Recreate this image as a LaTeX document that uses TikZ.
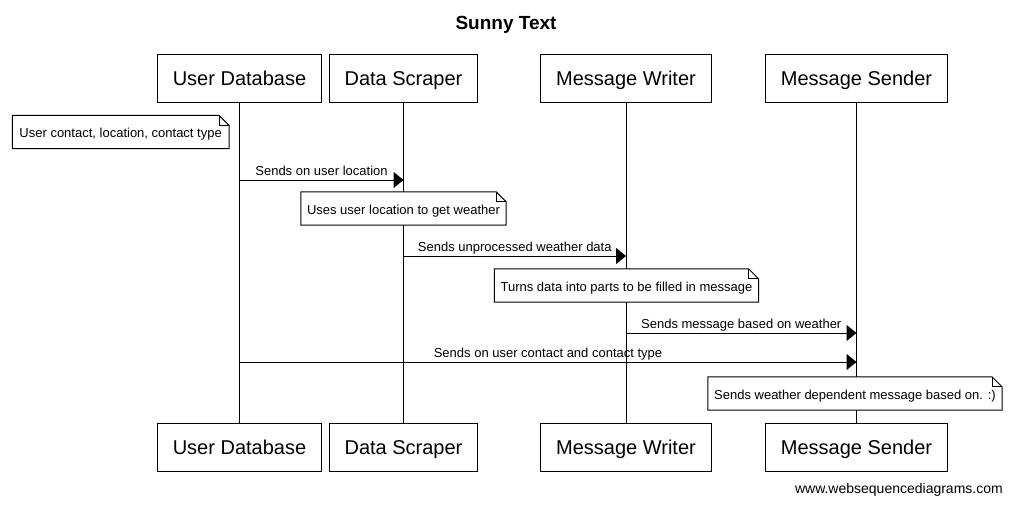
\documentclass[tikz,border=0pt]{standalone}
\usepackage{fontspec}
\setmainfont{Liberation Sans}
\usetikzlibrary{arrows.meta,calc}
\pgfdeclarelayer{back}
\pgfdeclarelayer{mid}
\pgfsetlayers{back,mid,main}
\tikzset{
  actor/.style={draw, line width=1pt, fill=white, minimum height=48pt, inner xsep=15.5pt, inner ysep=0pt, text height=16.5pt, text depth=2pt, font=\fontsize{20}{24}\selectfont},
  notebox/.style={minimum height=33pt, inner xsep=6pt, inner ysep=0pt, text height=12pt, text depth=1pt, font=\fontsize{13}{15}\selectfont},
  life/.style={line width=1pt},
  msg/.style={line width=1pt, -{Triangle[length=10pt,width=16pt]}},
  lbl/.style={midway, anchor=base, yshift=5pt, inner sep=0pt, font=\fontsize{13}{15}\selectfont},
}
\newcommand\drawnote[1]{%
  \begin{pgfonlayer}{mid}
  \filldraw[line width=1pt, fill=white] (#1.south west) -- (#1.north west) -- ([xshift=-10pt]#1.north east) -- ([yshift=-10pt]#1.north east) -- (#1.south east) -- cycle;
  \draw[line width=1pt] ([xshift=-10pt]#1.north east) -- ([xshift=-10pt,yshift=-10pt]#1.north east) -- ([yshift=-10pt]#1.north east);
  \end{pgfonlayer}
}
\begin{document}
\begin{tikzpicture}[x=1pt,y=-1pt]
\begin{pgfonlayer}{back}
\useasboundingbox[fill=white] (0,0) rectangle (1012,506);
\end{pgfonlayer}
\node[font=\fontsize{19}{23}\selectfont\bfseries] (title) at (506,25) {Sunny Text};
% actors
\node[actor] (ud) at (239.5,78) {User Database};
\node[actor] (ds) at (403.5,78) {Data Scraper};
\node[actor] (mw) at (626,78) {Message Writer};
\node[actor] (ms) at (856.5,78) {Message Sender};
\node[actor] (ud2) at (239.5,447) {User Database};
\node[actor] (ds2) at (403.5,447) {Data Scraper};
\node[actor] (mw2) at (626,447) {Message Writer};
\node[actor] (ms2) at (856.5,447) {Message Sender};
% lifelines
\begin{pgfonlayer}{back}
\draw[life] (ud.south) -- (ud2.north);
\draw[life] (ds.south) -- (ds2.north);
\draw[life] (mw.south) -- (mw2.north);
\draw[life] (ms.south) -- (ms2.north);
\end{pgfonlayer}
% note 1
\node[notebox, anchor=east, inner xsep=7pt] (n1) at (229,132) {User contact, location, contact type};
\drawnote{n1}
% message 1
\draw[msg] (ud.south |- 0,180) -- (ds.south |- 0,180) node[lbl] {Sends on user location};
% note 2
\node[notebox] (n2) at (403.5,208.5) {Uses user location to get weather};
\drawnote{n2}
% message 2
\draw[msg] (ds.south |- 0,256) -- (mw.south |- 0,256) node[lbl] {Sends unprocessed weather data};
% note 3
\node[notebox] (n3) at (626.5,285.5) {Turns data into parts to be filled in message};
\drawnote{n3}
% message 3
\draw[msg] (mw.south |- 0,333) -- (ms.south |- 0,333) node[lbl] {Sends message based on weather};
% message 4
\draw[msg] (ud.south |- 0,362) -- (ms.south |- 0,362) node[lbl] {Sends on user contact and contact type};
% note 4
\node[notebox] (n4) at (855,393.5) {Sends weather dependent message based on. :)};
\drawnote{n4}
% footer
\node[anchor=east, inner sep=0pt, font=\fontsize{14}{16}\selectfont] (web) at (1003,490) {www.websequencediagrams.com};
\end{tikzpicture}
\end{document}
